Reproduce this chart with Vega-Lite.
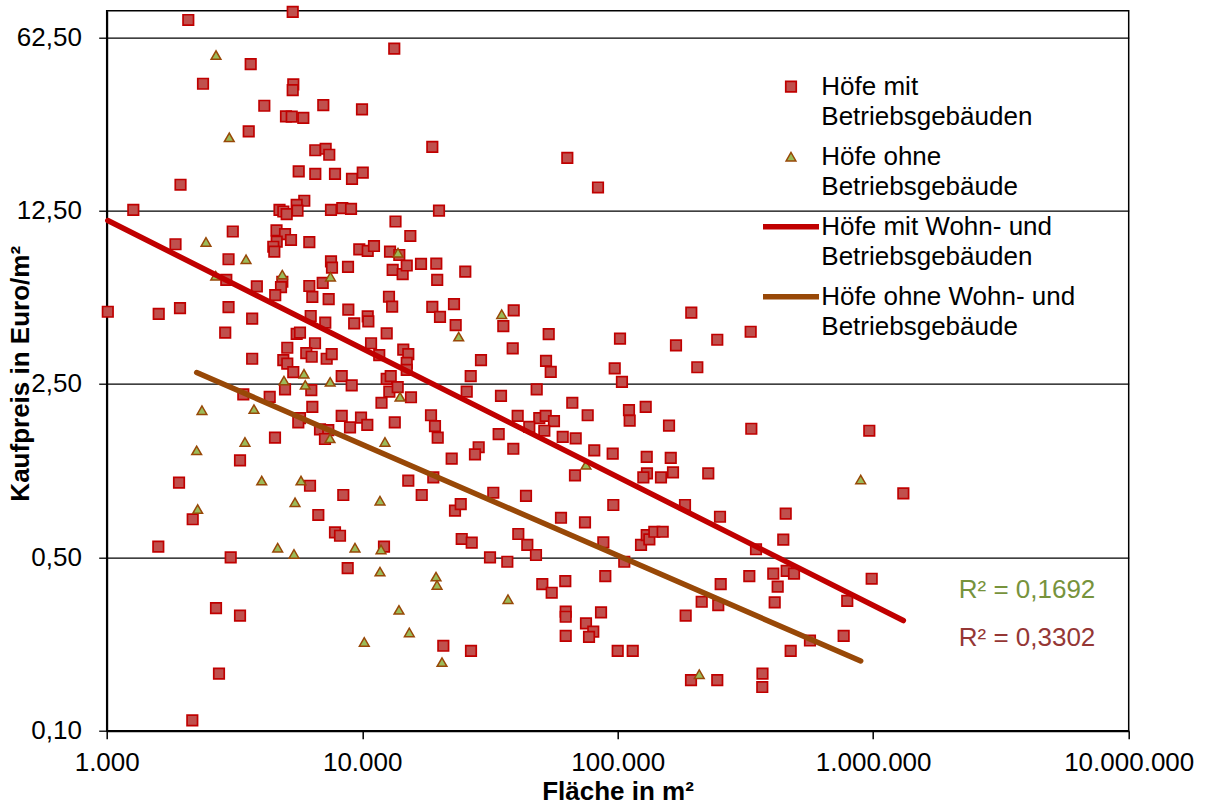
{
  "$schema": "https://vega.github.io/schema/vega-lite/v6.json",
  "width": 1022,
  "height": 720,
  "autosize": {"type": "none"},
  "padding": {"left": 106.7, "top": 10.7, "right": 82.3, "bottom": 74.3},
  "background": "white",
  "config": {
    "locale": {"number": {"decimal": ",", "thousands": ".", "grouping": [3], "currency": ["", " €"]}},
    "view": {"stroke": "black", "strokeWidth": 1.5},
    "font": "Liberation Sans",
    "style": {"guide-label": {"lineHeight": 30}}
  },
  "layer": [
    {
      "data": {"values": [
        {"serie": "Höfe mit Betriebsgebäuden", "flaeche": 2086, "preis": 73.4},
        {"serie": "Höfe mit Betriebsgebäuden", "flaeche": 5346, "preis": 79.1},
        {"serie": "Höfe mit Betriebsgebäuden", "flaeche": 13350, "preis": 56.3},
        {"serie": "Höfe mit Betriebsgebäuden", "flaeche": 3661, "preis": 48.7},
        {"serie": "Höfe mit Betriebsgebäuden", "flaeche": 2382, "preis": 40.6},
        {"serie": "Höfe mit Betriebsgebäuden", "flaeche": 5374, "preis": 40.4},
        {"serie": "Höfe mit Betriebsgebäuden", "flaeche": 5346, "preis": 38.3},
        {"serie": "Höfe mit Betriebsgebäuden", "flaeche": 4139, "preis": 33.1},
        {"serie": "Höfe mit Betriebsgebäuden", "flaeche": 7042, "preis": 33.3},
        {"serie": "Höfe mit Betriebsgebäuden", "flaeche": 9982, "preis": 32.0},
        {"serie": "Höfe mit Betriebsgebäuden", "flaeche": 5032, "preis": 30.0},
        {"serie": "Höfe mit Betriebsgebäuden", "flaeche": 5298, "preis": 29.9},
        {"serie": "Höfe mit Betriebsgebäuden", "flaeche": 5882, "preis": 29.6},
        {"serie": "Höfe mit Betriebsgebäuden", "flaeche": 3596, "preis": 26.1},
        {"serie": "Höfe mit Betriebsgebäuden", "flaeche": 6553, "preis": 21.9},
        {"serie": "Höfe mit Betriebsgebäuden", "flaeche": 7194, "preis": 22.2},
        {"serie": "Höfe mit Betriebsgebäuden", "flaeche": 7432, "preis": 21.0},
        {"serie": "Höfe mit Betriebsgebäuden", "flaeche": 5643, "preis": 18.0},
        {"serie": "Höfe mit Betriebsgebäuden", "flaeche": 6553, "preis": 17.6},
        {"serie": "Höfe mit Betriebsgebäuden", "flaeche": 7826, "preis": 17.6},
        {"serie": "Höfe mit Betriebsgebäuden", "flaeche": 9122, "preis": 16.8},
        {"serie": "Höfe mit Betriebsgebäuden", "flaeche": 10050, "preis": 17.8},
        {"serie": "Höfe mit Betriebsgebäuden", "flaeche": 1945, "preis": 15.9},
        {"serie": "Höfe mit Betriebsgebäuden", "flaeche": 5934, "preis": 13.7},
        {"serie": "Höfe mit Betriebsgebäuden", "flaeche": 5541, "preis": 13.2},
        {"serie": "Höfe mit Betriebsgebäuden", "flaeche": 1271, "preis": 12.6},
        {"serie": "Höfe mit Betriebsgebäuden", "flaeche": 4746, "preis": 12.6},
        {"serie": "Höfe mit Betriebsgebäuden", "flaeche": 4912, "preis": 12.4},
        {"serie": "Höfe mit Betriebsgebäuden", "flaeche": 5063, "preis": 12.1},
        {"serie": "Höfe mit Betriebsgebäuden", "flaeche": 5582, "preis": 12.5},
        {"serie": "Höfe mit Betriebsgebäuden", "flaeche": 7549, "preis": 12.6},
        {"serie": "Höfe mit Betriebsgebäuden", "flaeche": 8358, "preis": 12.8},
        {"serie": "Höfe mit Betriebsgebäuden", "flaeche": 9042, "preis": 12.7},
        {"serie": "Höfe mit Betriebsgebäuden", "flaeche": 13500, "preis": 11.3},
        {"serie": "Höfe mit Betriebsgebäuden", "flaeche": 3115, "preis": 10.3},
        {"serie": "Höfe mit Betriebsgebäuden", "flaeche": 4620, "preis": 10.4},
        {"serie": "Höfe mit Betriebsgebäuden", "flaeche": 4988, "preis": 10.05},
        {"serie": "Höfe mit Betriebsgebäuden", "flaeche": 5264, "preis": 9.52},
        {"serie": "Höfe mit Betriebsgebäuden", "flaeche": 6209, "preis": 9.33},
        {"serie": "Höfe mit Betriebsgebäuden", "flaeche": 4628, "preis": 9.37},
        {"serie": "Höfe mit Betriebsgebäuden", "flaeche": 4488, "preis": 8.94},
        {"serie": "Höfe mit Betriebsgebäuden", "flaeche": 4529, "preis": 8.54},
        {"serie": "Höfe mit Betriebsgebäuden", "flaeche": 1859, "preis": 9.15},
        {"serie": "Höfe mit Betriebsgebäuden", "flaeche": 18810, "preis": 22.6},
        {"serie": "Höfe mit Betriebsgebäuden", "flaeche": 63500, "preis": 20.4},
        {"serie": "Höfe mit Betriebsgebäuden", "flaeche": 83730, "preis": 15.5},
        {"serie": "Höfe mit Betriebsgebäuden", "flaeche": 19980, "preis": 12.5},
        {"serie": "Höfe mit Betriebsgebäuden", "flaeche": 15430, "preis": 9.88},
        {"serie": "Höfe mit Betriebsgebäuden", "flaeche": 9741, "preis": 8.73},
        {"serie": "Höfe mit Betriebsgebäuden", "flaeche": 10510, "preis": 8.60},
        {"serie": "Höfe mit Betriebsgebäuden", "flaeche": 11120, "preis": 9.00},
        {"serie": "Höfe mit Betriebsgebäuden", "flaeche": 12850, "preis": 8.54},
        {"serie": "Höfe mit Betriebsgebäuden", "flaeche": 13970, "preis": 8.28},
        {"serie": "Höfe mit Betriebsgebäuden", "flaeche": 2998, "preis": 7.96},
        {"serie": "Höfe mit Betriebsgebäuden", "flaeche": 7549, "preis": 7.80},
        {"serie": "Höfe mit Betriebsgebäuden", "flaeche": 7617, "preis": 7.36},
        {"serie": "Höfe mit Betriebsgebäuden", "flaeche": 8800, "preis": 7.41},
        {"serie": "Höfe mit Betriebsgebäuden", "flaeche": 13160, "preis": 7.21},
        {"serie": "Höfe mit Betriebsgebäuden", "flaeche": 14400, "preis": 6.93},
        {"serie": "Höfe mit Betriebsgebäuden", "flaeche": 14940, "preis": 7.51},
        {"serie": "Höfe mit Betriebsgebäuden", "flaeche": 16990, "preis": 7.62},
        {"serie": "Höfe mit Betriebsgebäuden", "flaeche": 19500, "preis": 7.64},
        {"serie": "Höfe mit Betriebsgebäuden", "flaeche": 2938, "preis": 6.57},
        {"serie": "Höfe mit Betriebsgebäuden", "flaeche": 3869, "preis": 6.19},
        {"serie": "Höfe mit Betriebsgebäuden", "flaeche": 4868, "preis": 6.46},
        {"serie": "Höfe mit Betriebsgebäuden", "flaeche": 4811, "preis": 6.14},
        {"serie": "Höfe mit Betriebsgebäuden", "flaeche": 6209, "preis": 6.21},
        {"serie": "Höfe mit Betriebsgebäuden", "flaeche": 7005, "preis": 6.39},
        {"serie": "Höfe mit Betriebsgebäuden", "flaeche": 6380, "preis": 5.61},
        {"serie": "Höfe mit Betriebsgebäuden", "flaeche": 7393, "preis": 5.50},
        {"serie": "Höfe mit Betriebsgebäuden", "flaeche": 4566, "preis": 5.71},
        {"serie": "Höfe mit Betriebsgebäuden", "flaeche": 19660, "preis": 6.57},
        {"serie": "Höfe mit Betriebsgebäuden", "flaeche": 2998, "preis": 5.10},
        {"serie": "Höfe mit Betriebsgebäuden", "flaeche": 1936, "preis": 5.06},
        {"serie": "Höfe mit Betriebsgebäuden", "flaeche": 8824, "preis": 4.99},
        {"serie": "Höfe mit Betriebsgebäuden", "flaeche": 12730, "preis": 5.62},
        {"serie": "Höfe mit Betriebsgebäuden", "flaeche": 13100, "preis": 5.13},
        {"serie": "Höfe mit Betriebsgebäuden", "flaeche": 18810, "preis": 5.12},
        {"serie": "Höfe mit Betriebsgebäuden", "flaeche": 20160, "preis": 4.66},
        {"serie": "Höfe mit Betriebsgebäuden", "flaeche": 3710, "preis": 4.59},
        {"serie": "Höfe mit Betriebsgebäuden", "flaeche": 6287, "preis": 4.70},
        {"serie": "Höfe mit Betriebsgebäuden", "flaeche": 7169, "preis": 4.42},
        {"serie": "Höfe mit Betriebsgebäuden", "flaeche": 9304, "preis": 4.39},
        {"serie": "Höfe mit Betriebsgebäuden", "flaeche": 10510, "preis": 4.68},
        {"serie": "Höfe mit Betriebsgebäuden", "flaeche": 10570, "preis": 4.47},
        {"serie": "Höfe mit Betriebsgebäuden", "flaeche": 2910, "preis": 4.03},
        {"serie": "Höfe mit Betriebsgebäuden", "flaeche": 5541, "preis": 3.98},
        {"serie": "Höfe mit Betriebsgebäuden", "flaeche": 5708, "preis": 4.03},
        {"serie": "Höfe mit Betriebsgebäuden", "flaeche": 6536, "preis": 3.65},
        {"serie": "Höfe mit Betriebsgebäuden", "flaeche": 12470, "preis": 4.00},
        {"serie": "Höfe mit Betriebsgebäuden", "flaeche": 5091, "preis": 3.50},
        {"serie": "Höfe mit Betriebsgebäuden", "flaeche": 10830, "preis": 3.65},
        {"serie": "Höfe mit Betriebsgebäuden", "flaeche": 3710, "preis": 3.16},
        {"serie": "Höfe mit Betriebsgebäuden", "flaeche": 4912, "preis": 3.12},
        {"serie": "Höfe mit Betriebsgebäuden", "flaeche": 5091, "preis": 3.02},
        {"serie": "Höfe mit Betriebsgebäuden", "flaeche": 6041, "preis": 3.33},
        {"serie": "Höfe mit Betriebsgebäuden", "flaeche": 6344, "preis": 3.22},
        {"serie": "Höfe mit Betriebsgebäuden", "flaeche": 7261, "preis": 3.16},
        {"serie": "Höfe mit Betriebsgebäuden", "flaeche": 7597, "preis": 3.30},
        {"serie": "Höfe mit Betriebsgebäuden", "flaeche": 11660, "preis": 3.27},
        {"serie": "Höfe mit Betriebsgebäuden", "flaeche": 14480, "preis": 3.44},
        {"serie": "Höfe mit Betriebsgebäuden", "flaeche": 15150, "preis": 3.30},
        {"serie": "Höfe mit Betriebsgebäuden", "flaeche": 14940, "preis": 3.04},
        {"serie": "Höfe mit Betriebsgebäuden", "flaeche": 14940, "preis": 2.85},
        {"serie": "Höfe mit Betriebsgebäuden", "flaeche": 5374, "preis": 2.79},
        {"serie": "Höfe mit Betriebsgebäuden", "flaeche": 8314, "preis": 2.69},
        {"serie": "Höfe mit Betriebsgebäuden", "flaeche": 9097, "preis": 2.47},
        {"serie": "Höfe mit Betriebsgebäuden", "flaeche": 12470, "preis": 2.62},
        {"serie": "Höfe mit Betriebsgebäuden", "flaeche": 12930, "preis": 2.69},
        {"serie": "Höfe mit Betriebsgebäuden", "flaeche": 4988, "preis": 2.38},
        {"serie": "Höfe mit Betriebsgebäuden", "flaeche": 6321, "preis": 2.36},
        {"serie": "Höfe mit Betriebsgebäuden", "flaeche": 12770, "preis": 2.33},
        {"serie": "Höfe mit Betriebsgebäuden", "flaeche": 13770, "preis": 2.43},
        {"serie": "Höfe mit Betriebsgebäuden", "flaeche": 3425, "preis": 2.27},
        {"serie": "Höfe mit Betriebsgebäuden", "flaeche": 4345, "preis": 2.22},
        {"serie": "Höfe mit Betriebsgebäuden", "flaeche": 6380, "preis": 2.02},
        {"serie": "Höfe mit Betriebsgebäuden", "flaeche": 11900, "preis": 2.10},
        {"serie": "Höfe mit Betriebsgebäuden", "flaeche": 15520, "preis": 2.21},
        {"serie": "Höfe mit Betriebsgebäuden", "flaeche": 1010, "preis": 4.89},
        {"serie": "Höfe mit Betriebsgebäuden", "flaeche": 1598, "preis": 4.79},
        {"serie": "Höfe mit Betriebsgebäuden", "flaeche": 5708, "preis": 1.82},
        {"serie": "Höfe mit Betriebsgebäuden", "flaeche": 5622, "preis": 1.75},
        {"serie": "Höfe mit Betriebsgebäuden", "flaeche": 6837, "preis": 1.64},
        {"serie": "Höfe mit Betriebsgebäuden", "flaeche": 7366, "preis": 1.63},
        {"serie": "Höfe mit Betriebsgebäuden", "flaeche": 7150, "preis": 1.50},
        {"serie": "Höfe mit Betriebsgebäuden", "flaeche": 8314, "preis": 1.86},
        {"serie": "Höfe mit Betriebsgebäuden", "flaeche": 9893, "preis": 1.83},
        {"serie": "Höfe mit Betriebsgebäuden", "flaeche": 10470, "preis": 1.71},
        {"serie": "Höfe mit Betriebsgebäuden", "flaeche": 8960, "preis": 1.67},
        {"serie": "Höfe mit Betriebsgebäuden", "flaeche": 4557, "preis": 1.52},
        {"serie": "Höfe mit Betriebsgebäuden", "flaeche": 3325, "preis": 1.23},
        {"serie": "Höfe mit Betriebsgebäuden", "flaeche": 13410, "preis": 1.75},
        {"serie": "Höfe mit Betriebsgebäuden", "flaeche": 25320, "preis": 7.09},
        {"serie": "Höfe mit Betriebsgebäuden", "flaeche": 22870, "preis": 5.25},
        {"serie": "Höfe mit Betriebsgebäuden", "flaeche": 23220, "preis": 4.32},
        {"serie": "Höfe mit Betriebsgebäuden", "flaeche": 39170, "preis": 4.95},
        {"serie": "Höfe mit Betriebsgebäuden", "flaeche": 35670, "preis": 4.28},
        {"serie": "Höfe mit Betriebsgebäuden", "flaeche": 53700, "preis": 3.97},
        {"serie": "Höfe mit Betriebsgebäuden", "flaeche": 38820, "preis": 3.48},
        {"serie": "Höfe mit Betriebsgebäuden", "flaeche": 102100, "preis": 3.81},
        {"serie": "Höfe mit Betriebsgebäuden", "flaeche": 194100, "preis": 4.85},
        {"serie": "Höfe mit Betriebsgebäuden", "flaeche": 331500, "preis": 4.06},
        {"serie": "Höfe mit Betriebsgebäuden", "flaeche": 169100, "preis": 3.58},
        {"serie": "Höfe mit Betriebsgebäuden", "flaeche": 245300, "preis": 3.77},
        {"serie": "Höfe mit Betriebsgebäuden", "flaeche": 29170, "preis": 3.12},
        {"serie": "Höfe mit Betriebsgebäuden", "flaeche": 52420, "preis": 3.10},
        {"serie": "Höfe mit Betriebsgebäuden", "flaeche": 54690, "preis": 2.80},
        {"serie": "Höfe mit Betriebsgebäuden", "flaeche": 26590, "preis": 2.69},
        {"serie": "Höfe mit Betriebsgebäuden", "flaeche": 97340, "preis": 2.89},
        {"serie": "Höfe mit Betriebsgebäuden", "flaeche": 103900, "preis": 2.55},
        {"serie": "Höfe mit Betriebsgebäuden", "flaeche": 204900, "preis": 2.92},
        {"serie": "Höfe mit Betriebsgebäuden", "flaeche": 25650, "preis": 2.33},
        {"serie": "Höfe mit Betriebsgebäuden", "flaeche": 48190, "preis": 2.38},
        {"serie": "Höfe mit Betriebsgebäuden", "flaeche": 34930, "preis": 2.24},
        {"serie": "Höfe mit Betriebsgebäuden", "flaeche": 66420, "preis": 2.10},
        {"serie": "Höfe mit Betriebsgebäuden", "flaeche": 76300, "preis": 1.87},
        {"serie": "Höfe mit Betriebsgebäuden", "flaeche": 110700, "preis": 1.96},
        {"serie": "Höfe mit Betriebsgebäuden", "flaeche": 111400, "preis": 1.78},
        {"serie": "Höfe mit Betriebsgebäuden", "flaeche": 128700, "preis": 2.02},
        {"serie": "Höfe mit Betriebsgebäuden", "flaeche": 158800, "preis": 1.70},
        {"serie": "Höfe mit Betriebsgebäuden", "flaeche": 333400, "preis": 1.65},
        {"serie": "Höfe mit Betriebsgebäuden", "flaeche": 18590, "preis": 1.87},
        {"serie": "Höfe mit Betriebsgebäuden", "flaeche": 19270, "preis": 1.69},
        {"serie": "Höfe mit Betriebsgebäuden", "flaeche": 19750, "preis": 1.52},
        {"serie": "Höfe mit Betriebsgebäuden", "flaeche": 40600, "preis": 1.86},
        {"serie": "Höfe mit Betriebsgebäuden", "flaeche": 49330, "preis": 1.82},
        {"serie": "Höfe mit Betriebsgebäuden", "flaeche": 52270, "preis": 1.86},
        {"serie": "Höfe mit Betriebsgebäuden", "flaeche": 56310, "preis": 1.77},
        {"serie": "Höfe mit Betriebsgebäuden", "flaeche": 45080, "preis": 1.68},
        {"serie": "Höfe mit Betriebsgebäuden", "flaeche": 51620, "preis": 1.62},
        {"serie": "Höfe mit Betriebsgebäuden", "flaeche": 34210, "preis": 1.57},
        {"serie": "Höfe mit Betriebsgebäuden", "flaeche": 60920, "preis": 1.53},
        {"serie": "Höfe mit Betriebsgebäuden", "flaeche": 68480, "preis": 1.51},
        {"serie": "Höfe mit Betriebsgebäuden", "flaeche": 28570, "preis": 1.39},
        {"serie": "Höfe mit Betriebsgebäuden", "flaeche": 27630, "preis": 1.30},
        {"serie": "Höfe mit Betriebsgebäuden", "flaeche": 22400, "preis": 1.25},
        {"serie": "Höfe mit Betriebsgebäuden", "flaeche": 39030, "preis": 1.37},
        {"serie": "Höfe mit Betriebsgebäuden", "flaeche": 80960, "preis": 1.35},
        {"serie": "Höfe mit Betriebsgebäuden", "flaeche": 95590, "preis": 1.31},
        {"serie": "Höfe mit Betriebsgebäuden", "flaeche": 129900, "preis": 1.27},
        {"serie": "Höfe mit Betriebsgebäuden", "flaeche": 161300, "preis": 1.26},
        {"serie": "Höfe mit Betriebsgebäuden", "flaeche": 68050, "preis": 1.07},
        {"serie": "Höfe mit Betriebsgebäuden", "flaeche": 130200, "preis": 1.09},
        {"serie": "Höfe mit Betriebsgebäuden", "flaeche": 126000, "preis": 1.05},
        {"serie": "Höfe mit Betriebsgebäuden", "flaeche": 147700, "preis": 1.05},
        {"serie": "Höfe mit Betriebsgebäuden", "flaeche": 164600, "preis": 1.10},
        {"serie": "Höfe mit Betriebsgebäuden", "flaeche": 226200, "preis": 1.09},
        {"serie": "Höfe mit Betriebsgebäuden", "flaeche": 15150, "preis": 1.02},
        {"serie": "Höfe mit Betriebsgebäuden", "flaeche": 18980, "preis": 1.05},
        {"serie": "Höfe mit Betriebsgebäuden", "flaeche": 17100, "preis": 0.892},
        {"serie": "Höfe mit Betriebsgebäuden", "flaeche": 23080, "preis": 0.771},
        {"serie": "Höfe mit Betriebsgebäuden", "flaeche": 24300, "preis": 0.820},
        {"serie": "Höfe mit Betriebsgebäuden", "flaeche": 32590, "preis": 0.911},
        {"serie": "Höfe mit Betriebsgebäuden", "flaeche": 43760, "preis": 0.884},
        {"serie": "Höfe mit Betriebsgebäuden", "flaeche": 96110, "preis": 0.813},
        {"serie": "Höfe mit Betriebsgebäuden", "flaeche": 59990, "preis": 0.722},
        {"serie": "Höfe mit Betriebsgebäuden", "flaeche": 74470, "preis": 0.692},
        {"serie": "Höfe mit Betriebsgebäuden", "flaeche": 183400, "preis": 0.813},
        {"serie": "Höfe mit Betriebsgebäuden", "flaeche": 251400, "preis": 0.729},
        {"serie": "Höfe mit Betriebsgebäuden", "flaeche": 24520, "preis": 0.593},
        {"serie": "Höfe mit Betriebsgebäuden", "flaeche": 26830, "preis": 0.573},
        {"serie": "Höfe mit Betriebsgebäuden", "flaeche": 40830, "preis": 0.621},
        {"serie": "Höfe mit Betriebsgebäuden", "flaeche": 44280, "preis": 0.561},
        {"serie": "Höfe mit Betriebsgebäuden", "flaeche": 47880, "preis": 0.511},
        {"serie": "Höfe mit Betriebsgebäuden", "flaeche": 31640, "preis": 0.500},
        {"serie": "Höfe mit Betriebsgebäuden", "flaeche": 36980, "preis": 0.480},
        {"serie": "Höfe mit Betriebsgebäuden", "flaeche": 87860, "preis": 0.575},
        {"serie": "Höfe mit Betriebsgebäuden", "flaeche": 123400, "preis": 0.561},
        {"serie": "Höfe mit Betriebsgebäuden", "flaeche": 129900, "preis": 0.615},
        {"serie": "Höfe mit Betriebsgebäuden", "flaeche": 133000, "preis": 0.591},
        {"serie": "Höfe mit Betriebsgebäuden", "flaeche": 139100, "preis": 0.634},
        {"serie": "Höfe mit Betriebsgebäuden", "flaeche": 150000, "preis": 0.634},
        {"serie": "Höfe mit Betriebsgebäuden", "flaeche": 106100, "preis": 0.480},
        {"serie": "Höfe mit Betriebsgebäuden", "flaeche": 347800, "preis": 0.539},
        {"serie": "Höfe mit Betriebsgebäuden", "flaeche": 50690, "preis": 0.390},
        {"serie": "Höfe mit Betriebsgebäuden", "flaeche": 55170, "preis": 0.360},
        {"serie": "Höfe mit Betriebsgebäuden", "flaeche": 62360, "preis": 0.401},
        {"serie": "Höfe mit Betriebsgebäuden", "flaeche": 89430, "preis": 0.420},
        {"serie": "Höfe mit Betriebsgebäuden", "flaeche": 253000, "preis": 0.390},
        {"serie": "Höfe mit Betriebsgebäuden", "flaeche": 327400, "preis": 0.420},
        {"serie": "Höfe mit Betriebsgebäuden", "flaeche": 213200, "preis": 0.331},
        {"serie": "Höfe mit Betriebsgebäuden", "flaeche": 247500, "preis": 0.321},
        {"serie": "Höfe mit Betriebsgebäuden", "flaeche": 62590, "preis": 0.302},
        {"serie": "Höfe mit Betriebsgebäuden", "flaeche": 62590, "preis": 0.288},
        {"serie": "Höfe mit Betriebsgebäuden", "flaeche": 86050, "preis": 0.300},
        {"serie": "Höfe mit Betriebsgebäuden", "flaeche": 75140, "preis": 0.271},
        {"serie": "Höfe mit Betriebsgebäuden", "flaeche": 80240, "preis": 0.251},
        {"serie": "Höfe mit Betriebsgebäuden", "flaeche": 77230, "preis": 0.239},
        {"serie": "Höfe mit Betriebsgebäuden", "flaeche": 62590, "preis": 0.241},
        {"serie": "Höfe mit Betriebsgebäuden", "flaeche": 184500, "preis": 0.291},
        {"serie": "Höfe mit Betriebsgebäuden", "flaeche": 20770, "preis": 0.220},
        {"serie": "Höfe mit Betriebsgebäuden", "flaeche": 26660, "preis": 0.210},
        {"serie": "Höfe mit Betriebsgebäuden", "flaeche": 100000, "preis": 0.210},
        {"serie": "Höfe mit Betriebsgebäuden", "flaeche": 114500, "preis": 0.210},
        {"serie": "Höfe mit Betriebsgebäuden", "flaeche": 193600, "preis": 0.160},
        {"serie": "Höfe mit Betriebsgebäuden", "flaeche": 245300, "preis": 0.160},
        {"serie": "Höfe mit Betriebsgebäuden", "flaeche": 368700, "preis": 0.170},
        {"serie": "Höfe mit Betriebsgebäuden", "flaeche": 368000, "preis": 0.150},
        {"serie": "Höfe mit Betriebsgebäuden", "flaeche": 12170, "preis": 0.552},
        {"serie": "Höfe mit Betriebsgebäuden", "flaeche": 1312000, "preis": 0.906},
        {"serie": "Höfe mit Betriebsgebäuden", "flaeche": 454500, "preis": 0.750},
        {"serie": "Höfe mit Betriebsgebäuden", "flaeche": 444700, "preis": 0.589},
        {"serie": "Höfe mit Betriebsgebäuden", "flaeche": 406400, "preis": 0.430},
        {"serie": "Höfe mit Betriebsgebäuden", "flaeche": 458500, "preis": 0.441},
        {"serie": "Höfe mit Betriebsgebäuden", "flaeche": 489800, "preis": 0.430},
        {"serie": "Höfe mit Betriebsgebäuden", "flaeche": 422800, "preis": 0.381},
        {"serie": "Höfe mit Betriebsgebäuden", "flaeche": 411600, "preis": 0.329},
        {"serie": "Höfe mit Betriebsgebäuden", "flaeche": 986500, "preis": 0.410},
        {"serie": "Höfe mit Betriebsgebäuden", "flaeche": 791500, "preis": 0.334},
        {"serie": "Höfe mit Betriebsgebäuden", "flaeche": 565600, "preis": 0.231},
        {"serie": "Höfe mit Betriebsgebäuden", "flaeche": 766300, "preis": 0.241},
        {"serie": "Höfe mit Betriebsgebäuden", "flaeche": 475400, "preis": 0.210},
        {"serie": "Höfe mit Betriebsgebäuden", "flaeche": 965400, "preis": 1.62},
        {"serie": "Höfe mit Betriebsgebäuden", "flaeche": 1919, "preis": 1.00},
        {"serie": "Höfe mit Betriebsgebäuden", "flaeche": 6248, "preis": 0.972},
        {"serie": "Höfe mit Betriebsgebäuden", "flaeche": 8433, "preis": 0.892},
        {"serie": "Höfe mit Betriebsgebäuden", "flaeche": 2171, "preis": 0.712},
        {"serie": "Höfe mit Betriebsgebäuden", "flaeche": 6733, "preis": 0.741},
        {"serie": "Höfe mit Betriebsgebäuden", "flaeche": 7826, "preis": 0.631},
        {"serie": "Höfe mit Betriebsgebäuden", "flaeche": 8187, "preis": 0.611},
        {"serie": "Höfe mit Betriebsgebäuden", "flaeche": 1592, "preis": 0.552},
        {"serie": "Höfe mit Betriebsgebäuden", "flaeche": 3057, "preis": 0.500},
        {"serie": "Höfe mit Betriebsgebäuden", "flaeche": 8774, "preis": 0.452},
        {"serie": "Höfe mit Betriebsgebäuden", "flaeche": 2678, "preis": 0.312},
        {"serie": "Höfe mit Betriebsgebäuden", "flaeche": 3325, "preis": 0.291},
        {"serie": "Höfe mit Betriebsgebäuden", "flaeche": 2751, "preis": 0.170},
        {"serie": "Höfe mit Betriebsgebäuden", "flaeche": 2163, "preis": 0.110},
        {"serie": "Höfe ohne Betriebsgebäude", "flaeche": 2678, "preis": 53.0},
        {"serie": "Höfe ohne Betriebsgebäude", "flaeche": 3018, "preis": 24.7},
        {"serie": "Höfe ohne Betriebsgebäude", "flaeche": 2447, "preis": 9.35},
        {"serie": "Höfe ohne Betriebsgebäude", "flaeche": 3510, "preis": 7.96},
        {"serie": "Höfe ohne Betriebsgebäude", "flaeche": 2671, "preis": 6.83},
        {"serie": "Höfe ohne Betriebsgebäude", "flaeche": 4868, "preis": 6.90},
        {"serie": "Höfe ohne Betriebsgebäude", "flaeche": 7514, "preis": 6.77},
        {"serie": "Höfe ohne Betriebsgebäude", "flaeche": 13810, "preis": 8.46},
        {"serie": "Höfe ohne Betriebsgebäude", "flaeche": 35160, "preis": 4.78},
        {"serie": "Höfe ohne Betriebsgebäude", "flaeche": 23860, "preis": 3.88},
        {"serie": "Höfe ohne Betriebsgebäude", "flaeche": 4942, "preis": 2.58},
        {"serie": "Höfe ohne Betriebsgebäude", "flaeche": 5918, "preis": 2.75},
        {"serie": "Höfe ohne Betriebsgebäude", "flaeche": 5988, "preis": 2.48},
        {"serie": "Höfe ohne Betriebsgebäude", "flaeche": 7494, "preis": 2.55},
        {"serie": "Höfe ohne Betriebsgebäude", "flaeche": 14060, "preis": 2.22},
        {"serie": "Höfe ohne Betriebsgebäude", "flaeche": 2360, "preis": 1.96},
        {"serie": "Höfe ohne Betriebsgebäude", "flaeche": 3771, "preis": 1.98},
        {"serie": "Höfe ohne Betriebsgebäude", "flaeche": 2250, "preis": 1.35},
        {"serie": "Höfe ohne Betriebsgebäude", "flaeche": 3477, "preis": 1.46},
        {"serie": "Höfe ohne Betriebsgebäude", "flaeche": 7482, "preis": 1.51},
        {"serie": "Höfe ohne Betriebsgebäude", "flaeche": 12280, "preis": 1.46},
        {"serie": "Höfe ohne Betriebsgebäude", "flaeche": 4043, "preis": 1.02},
        {"serie": "Höfe ohne Betriebsgebäude", "flaeche": 5760, "preis": 1.02},
        {"serie": "Höfe ohne Betriebsgebäude", "flaeche": 2270, "preis": 0.783},
        {"serie": "Höfe ohne Betriebsgebäude", "flaeche": 5458, "preis": 0.834},
        {"serie": "Höfe ohne Betriebsgebäude", "flaeche": 11740, "preis": 0.846},
        {"serie": "Höfe ohne Betriebsgebäude", "flaeche": 4670, "preis": 0.547},
        {"serie": "Höfe ohne Betriebsgebäude", "flaeche": 5409, "preis": 0.516},
        {"serie": "Höfe ohne Betriebsgebäude", "flaeche": 9372, "preis": 0.547},
        {"serie": "Höfe ohne Betriebsgebäude", "flaeche": 11850, "preis": 0.538},
        {"serie": "Höfe ohne Betriebsgebäude", "flaeche": 11740, "preis": 0.438},
        {"serie": "Höfe ohne Betriebsgebäude", "flaeche": 13930, "preis": 0.307},
        {"serie": "Höfe ohne Betriebsgebäude", "flaeche": 10190, "preis": 0.228},
        {"serie": "Höfe ohne Betriebsgebäude", "flaeche": 19450, "preis": 0.418},
        {"serie": "Höfe ohne Betriebsgebäude", "flaeche": 19630, "preis": 0.387},
        {"serie": "Höfe ohne Betriebsgebäude", "flaeche": 15290, "preis": 0.249},
        {"serie": "Höfe ohne Betriebsgebäude", "flaeche": 20530, "preis": 0.189},
        {"serie": "Höfe ohne Betriebsgebäude", "flaeche": 37210, "preis": 0.339},
        {"serie": "Höfe ohne Betriebsgebäude", "flaeche": 75140, "preis": 1.18},
        {"serie": "Höfe ohne Betriebsgebäude", "flaeche": 208600, "preis": 0.169},
        {"serie": "Höfe ohne Betriebsgebäude", "flaeche": 893400, "preis": 1.03}
      ]},
      "mark": {"type": "point", "opacity": 1},
      "encoding": {
        "x": {"field": "flaeche", "type": "quantitative",
          "scale": {"type": "log", "domain": [1000, 10000000], "nice": false},
          "axis": {"values": [1000, 10000, 100000, 1000000, 10000000], "format": ",d", "title": "Fläche in m²",
            "grid": false, "domainColor": "black", "domainWidth": 2, "tickColor": "black", "tickWidth": 1.5, "tickSize": 8,
            "labelFont": "Liberation Sans", "labelFontSize": 26, "labelColor": "black", "labelPadding": 10.3, "labelBaseline": "top",
            "labelFlush": false, "labelOverlap": false,
            "titleFont": "Liberation Sans", "titleFontSize": 26, "titleFontWeight": "bold", "titleColor": "black",
            "titleX": 510.8, "titleY": 68.5, "titleBaseline": "alphabetic", "titleAlign": "center"}},
        "y": {"field": "preis", "type": "quantitative",
          "scale": {"type": "log", "domain": [0.1, 80], "nice": false},
          "axis": {"values": [0.1, 0.5, 2.5, 12.5, 62.5], "format": ".2f", "title": "Kaufpreis in Euro/m²",
            "grid": true, "gridColor": "black", "gridWidth": 1.3, "gridOpacity": 1,
            "domainColor": "black", "domainWidth": 2, "tickColor": "black", "tickWidth": 1.3, "tickSize": 8,
            "labelFont": "Liberation Sans", "labelFontSize": 26, "labelColor": "black", "labelPadding": 17.3,
            "labelFlush": false, "labelOverlap": false,
            "titleFont": "Liberation Sans", "titleFontSize": 26, "titleFontWeight": "bold", "titleColor": "black",
            "titleAngle": -90, "titleX": -86, "titleY": 362.6, "titleBaseline": "middle", "titleAlign": "center"}},
        "shape": {"field": "serie", "type": "nominal",
          "scale": {"domain": ["Höfe mit Betriebsgebäuden", "Höfe ohne Betriebsgebäude", "Höfe mit Wohn- und Betriebsgebäuden", "Höfe ohne Wohn- und Betriebsgebäude"], "range": ["square", "triangle-up", "M-8,0H8", "M-8,0H8"]},
          "legend": {"title": null, "orient": "none", "legendX": 671.3, "legendY": 63, "padding": 0, "labelFont": "Liberation Sans", "labelFontSize": 26, "labelColor": "black", "labelLimit": 600, "labelOffset": 17.3, "rowPadding": 14, "symbolOpacity": 1, "labelExpr": "split(replace(datum.label, ' Betriebsgeb', '|Betriebsgeb'), '|')"}},
        "fill": {"field": "serie", "type": "nominal",
          "scale": {"domain": ["Höfe mit Betriebsgebäuden", "Höfe ohne Betriebsgebäude", "Höfe mit Wohn- und Betriebsgebäuden", "Höfe ohne Wohn- und Betriebsgebäude"], "range": ["#C0504D", "#9BBB59", "#C00000", "#984807"]},
          "legend": {"title": null, "orient": "none", "legendX": 671.3, "legendY": 63, "padding": 0, "labelFont": "Liberation Sans", "labelFontSize": 26, "labelColor": "black", "labelLimit": 600, "labelOffset": 17.3, "rowPadding": 14, "symbolOpacity": 1, "labelExpr": "split(replace(datum.label, ' Betriebsgeb', '|Betriebsgeb'), '|')"}},
        "stroke": {"field": "serie", "type": "nominal",
          "scale": {"domain": ["Höfe mit Betriebsgebäuden", "Höfe ohne Betriebsgebäude", "Höfe mit Wohn- und Betriebsgebäuden", "Höfe ohne Wohn- und Betriebsgebäude"], "range": ["#C00000", "#984807", "#C00000", "#984807"]},
          "legend": {"title": null, "orient": "none", "legendX": 671.3, "legendY": 63, "padding": 0, "labelFont": "Liberation Sans", "labelFontSize": 26, "labelColor": "black", "labelLimit": 600, "labelOffset": 17.3, "rowPadding": 14, "symbolOpacity": 1, "labelExpr": "split(replace(datum.label, ' Betriebsgeb', '|Betriebsgeb'), '|')"}},
        "size": {"field": "serie", "type": "nominal",
          "scale": {"type": "ordinal", "domain": ["Höfe mit Betriebsgebäuden", "Höfe ohne Betriebsgebäude", "Höfe mit Wohn- und Betriebsgebäuden", "Höfe ohne Wohn- und Betriebsgebäude"], "range": [110, 95, 49, 49]},
          "legend": {"title": null, "orient": "none", "legendX": 671.3, "legendY": 63, "padding": 0, "labelFont": "Liberation Sans", "labelFontSize": 26, "labelColor": "black", "labelLimit": 600, "labelOffset": 17.3, "rowPadding": 14, "symbolOpacity": 1, "labelExpr": "split(replace(datum.label, ' Betriebsgeb', '|Betriebsgeb'), '|')"}},
        "strokeWidth": {"field": "serie", "type": "nominal",
          "scale": {"type": "ordinal", "domain": ["Höfe mit Betriebsgebäuden", "Höfe ohne Betriebsgebäude", "Höfe mit Wohn- und Betriebsgebäuden", "Höfe ohne Wohn- und Betriebsgebäude"], "range": [1.7, 1.5, 5.5, 5.5]},
          "legend": {"title": null, "orient": "none", "legendX": 671.3, "legendY": 63, "padding": 0, "labelFont": "Liberation Sans", "labelFontSize": 26, "labelColor": "black", "labelLimit": 600, "labelOffset": 17.3, "rowPadding": 14, "symbolOpacity": 1, "labelExpr": "split(replace(datum.label, ' Betriebsgeb', '|Betriebsgeb'), '|')"}}
      }
    },
    {
      "data": {"values": [
        {"serie": "Höfe mit Wohn- und Betriebsgebäuden", "flaeche": 1010, "preis": 11.4},
        {"serie": "Höfe mit Wohn- und Betriebsgebäuden", "flaeche": 1312000, "preis": 0.278},
        {"serie": "Höfe ohne Wohn- und Betriebsgebäude", "flaeche": 2250, "preis": 2.78},
        {"serie": "Höfe ohne Wohn- und Betriebsgebäude", "flaeche": 893400, "preis": 0.191}
      ]},
      "mark": {"type": "line", "strokeWidth": 5.5, "strokeCap": "round"},
      "encoding": {
        "x": {"field": "flaeche", "type": "quantitative"},
        "y": {"field": "preis", "type": "quantitative"},
        "stroke": {"field": "serie", "type": "nominal",
          "legend": {"title": null, "orient": "none", "legendX": 671.3, "legendY": 63, "padding": 0, "labelFont": "Liberation Sans", "labelFontSize": 26, "labelColor": "black", "labelLimit": 600, "labelOffset": 17.3, "rowPadding": 14, "symbolOpacity": 1, "labelExpr": "split(replace(datum.label, ' Betriebsgeb', '|Betriebsgeb'), '|')"}}
      }
    },
    {
      "data": {"values": [{}]},
      "mark": {"type": "text", "text": "R² = 0,1692", "font": "Liberation Sans", "fontSize": 26, "color": "#77933C", "align": "center", "baseline": "middle"},
      "encoding": {"x": {"datum": 4000000, "type": "quantitative"}, "y": {"datum": 0.369, "type": "quantitative"}}
    },
    {
      "data": {"values": [{}]},
      "mark": {"type": "text", "text": "R² = 0,3302", "font": "Liberation Sans", "fontSize": 26, "color": "#953735", "align": "center", "baseline": "middle"},
      "encoding": {"x": {"datum": 4000000, "type": "quantitative"}, "y": {"datum": 0.2358, "type": "quantitative"}}
    }
  ]
}
